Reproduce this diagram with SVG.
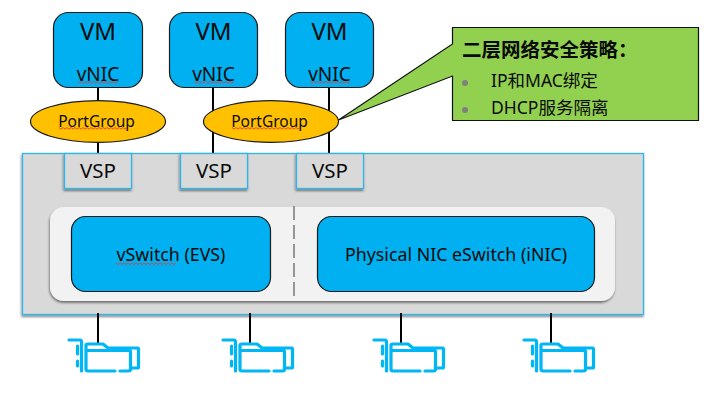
<svg xmlns="http://www.w3.org/2000/svg" width="704" height="406" viewBox="0 0 704 406">
<style>
text{font-family:"Noto Sans","Noto Sans CJK SC",sans-serif;fill:#0a0a0a;text-anchor:middle}
.vm{fill:#00b0f0;stroke:#1a1a1a;stroke-width:1.2}
.pg{fill:#ffc000;stroke:#1a1a1a;stroke-width:1.2}
.vsp{fill:#d9d9d9;stroke:#2fb5ea;stroke-width:1.3;filter:url(#sh)}
.big{font-size:24px}
.mid{font-size:19px}
.vs{font-size:20.5px}
.sm{font-size:15.5px}
.lg{font-size:17.8px}
.cn{font-size:17.5px;text-anchor:start}
.wav{fill:none;stroke:#e0403a;stroke-width:.9}
.con{stroke:#000;stroke-width:2;fill:none}
.nic{fill:none;stroke:#00b6f4;stroke-width:3.2;stroke-linecap:round;stroke-linejoin:round}
</style>
<defs>
<filter id="sh" x="-10%" y="-10%" width="120%" height="125%"><feDropShadow dx="-0.6" dy="1.8" stdDeviation="1.3" flood-color="#000" flood-opacity=".5"/></filter>
<path id="w40" d="M0,0l2,1.6 2,-1.6 2,1.6 2,-1.6 2,1.6 2,-1.6 2,1.6 2,-1.6 2,1.6 2,-1.6 2,1.6 2,-1.6 2,1.6 2,-1.6 2,1.6 2,-1.6 2,1.6 2,-1.6 2,1.6 2,-1.6"/>
<path id="w64" d="M0,0l2,1.6 2,-1.6 2,1.6 2,-1.6 2,1.6 2,-1.6 2,1.6 2,-1.6 2,1.6 2,-1.6 2,1.6 2,-1.6 2,1.6 2,-1.6 2,1.6 2,-1.6 2,1.6 2,-1.6 2,1.6 2,-1.6 2,1.6 2,-1.6 2,1.6 2,-1.6 2,1.6 2,-1.6 2,1.6 2,-1.6 2,1.6 2,-1.6"/>
<path id="w75" d="M0,0l2,1.6 2,-1.6 2,1.6 2,-1.6 2,1.6 2,-1.6 2,1.6 2,-1.6 2,1.6 2,-1.6 2,1.6 2,-1.6 2,1.6 2,-1.6 2,1.6 2,-1.6 2,1.6 2,-1.6 2,1.6 2,-1.6 2,1.6 2,-1.6 2,1.6 2,-1.6 2,1.6 2,-1.6 2,1.6 2,-1.6 2,1.6 2,-1.6 2,1.6 2,-1.6 2,1.6 2,-1.6"/>
<g id="nicicon">
<path class="nic" d="M69,340H80Q81.500,340 81.500,342V371"/>
<path class="nic" stroke-linecap="butt" d="M77.500,346V354M77.500,361V366"/>
<path class="nic" d="M115,371H88Q86,371 86,369V345Q86,344 88,344H103L108,348H137.500Q138.500,348 138.500,349V367Q138.500,368 137.500,368H131M88,350.500H129.500Q130.500,350.500 130.500,351.500V369Q130.500,371 128.500,371H120"/>
</g>
</defs>

<g id="host">
<rect x="22.500" y="153.500" width="621" height="161" fill="#d9d9d9" stroke="#2fb5ea" stroke-width="1.300" filter="url(#sh)"/>
</g>

<g id="connectors">
<path class="con" d="M98,87V154M213,87V154M329,87V154M98,313V344M250,313V344M401,313V344M551,313V344"/>
</g>

<g id="vm1"><rect class="vm" x="53.500" y="12.500" width="89" height="75" rx="15"/><text class="big" x="98" y="40">VM</text><text class="mid" x="98" y="81">vNIC</text><use href="#w40" class="wav" x="78" y="81.500"/></g>
<g id="vm2"><rect class="vm" x="169.500" y="12.500" width="88" height="75" rx="15"/><text class="big" x="213.500" y="40">VM</text><text class="mid" x="213.500" y="81">vNIC</text><use href="#w40" class="wav" x="194" y="81.500"/></g>
<g id="vm3"><rect class="vm" x="285.500" y="12.500" width="88" height="75" rx="15"/><text class="big" x="329.500" y="40">VM</text><text class="mid" x="329.500" y="81">vNIC</text><use href="#w40" class="wav" x="310" y="81.500"/></g>

<g id="pg1"><ellipse class="pg" cx="98" cy="121.500" rx="67.500" ry="20.800"/><text class="sm" x="96.500" y="126.500">PortGroup</text><use href="#w75" class="wav" x="59" y="127.500"/></g>
<g id="pg2"><ellipse class="pg" cx="271" cy="121.500" rx="67.500" ry="20.800"/><text class="sm" x="269.500" y="126.500">PortGroup</text><use href="#w75" class="wav" x="232" y="127.500"/></g>

<g id="vsp1"><rect class="vsp" x="64.500" y="153.500" width="67" height="35"/><text class="vs" x="98" y="178">VSP</text></g>
<g id="vsp2"><rect class="vsp" x="180.500" y="153.500" width="67" height="35"/><text class="vs" x="214" y="178">VSP</text></g>
<g id="vsp3"><rect class="vsp" x="296.500" y="153.500" width="67" height="35"/><text class="vs" x="330" y="178">VSP</text></g>

<g id="switchpanel"><rect x="50" y="207" width="565" height="94" rx="14" fill="#f2f2f2" filter="url(#sh)"/><path d="M294,206V301" stroke="#7f7f7f" stroke-width="1.600" stroke-dasharray="14 5" fill="none"/></g>
<g id="vswitch"><rect class="vm" x="71.500" y="216.500" width="199" height="75" rx="14"/><text class="lg" x="171" y="261">vSwitch (EVS)</text><use href="#w64" class="wav" x="116" y="263"/></g>
<g id="enic"><rect class="vm" x="317.500" y="216.500" width="277" height="75" rx="14"/><text class="lg" x="456" y="261">Physical NIC eSwitch (iNIC)</text></g>

<g id="nic1"><use href="#nicicon"/></g>
<g id="nic2"><use href="#nicicon" x="154"/></g>
<g id="nic3"><use href="#nicicon" x="305"/></g>
<g id="nic4"><use href="#nicicon" x="455"/></g>

<g id="callout">
<path d="M452.500,27.500H698.500V120.500H452.500V76L338.500,120L452.500,44Z" fill="#92d050" stroke="#111" stroke-width="1.200" stroke-linejoin="miter"/>
<text x="462" y="57" style="text-anchor:start;font-size:19.500px;font-weight:700;font-family:'Noto Sans CJK SC',sans-serif">二层网络安全策略：</text>
<circle cx="465" cy="83" r="3" fill="#808080"/><circle cx="465" cy="110" r="3" fill="#808080"/>
<text class="cn" x="491" y="87">IP和MAC绑定</text>
<text class="cn" x="491" y="114">DHCP服务隔离</text>
</g>
</svg>
